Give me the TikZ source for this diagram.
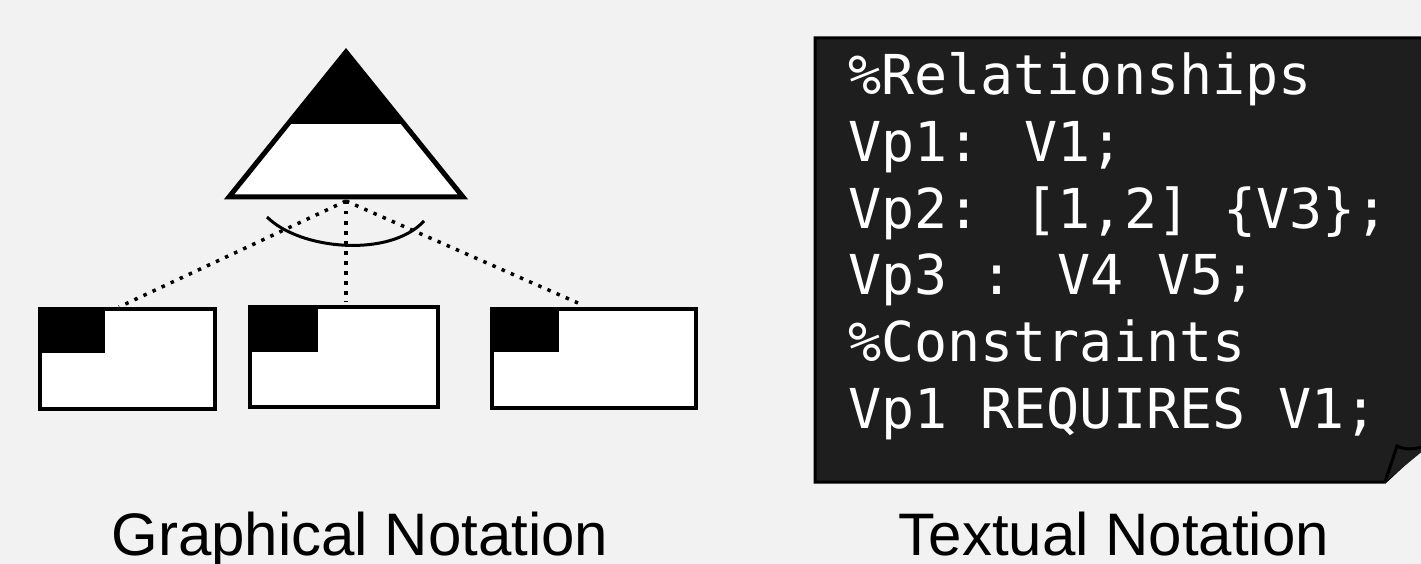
\documentclass[tikz,border=0pt]{standalone}
\usepackage{fontspec}
\setmainfont{Liberation Sans}
\newfontfamily\codefont{DejaVu Sans Mono}
\definecolor{bg}{HTML}{F2F2F2}
\definecolor{notebg}{HTML}{1E1E1E}
\begin{document}
\begin{tikzpicture}[x=1pt,y=-1pt,
  outline/.style={draw=black,line width=4pt,fill=white},
  block/.style={fill=black},
  dotline/.style={draw=black,line width=3.5pt,dash pattern=on 3.5pt off 6.5pt},
  arcline/.style={draw=black,line width=3pt},
  caption/.style={font=\fontsize{60}{62}\selectfont,anchor=base,inner sep=0pt},
  code/.style={font=\codefont\fontsize{55}{66.6}\selectfont,text=white,anchor=base west,inner sep=0pt}]
\fill[bg] (0,0) rectangle (1421,564);
\useasboundingbox (0,0) rectangle (1421,564);

% --- variation point (triangle) ---
\fill[white] (346,51) -- (229,197) -- (463,197) -- cycle;
\fill[black] (346,51) -- (287.5,124) -- (404.5,124) -- cycle;
\draw[line width=5pt,line join=miter] (346,52) -- (229,197) -- (463,197) -- cycle;
\coordinate (vp) at (346,201);

% --- variants (boxes) ---
\draw[outline] (40,309) rectangle (215,409);
\fill[block] (40,309) rectangle (105,353);
\draw[line width=4pt] (40,309) rectangle (215,409);
\coordinate (v1) at (119,307);

\draw[outline] (250,307) rectangle (438,407);
\fill[block] (250,307) rectangle (318,352);
\draw[line width=4pt] (250,307) rectangle (438,407);
\coordinate (v2) at (346,302);

\draw[outline] (492,309) rectangle (696,408);
\fill[block] (492,309) rectangle (559,352);
\draw[line width=4pt] (492,309) rectangle (696,408);
\coordinate (v3) at (578,303);

% --- dotted connectors ---
\draw[dotline] (vp) -- (v1);
\draw[dotline] (vp) -- (v2);
\draw[dotline] (vp) -- (v3);

% --- alternative arc ---
\draw[arcline] (267,217) .. controls (300,250) and (390,258) .. (424,221);

% --- textual notation note ---
\draw[fill=notebg,line width=3pt,line join=miter] (815,38) -- (1430,38) -- (1430,440) -- (1385,482) -- (815,482) -- cycle;
\draw[line width=3pt,fill=notebg] (1385,482) -- (1397,446) .. controls (1405,450) and (1413,450) .. (1430,445);
\node[code] (l1) at (848,95) {\%Relationships};
\node[code] (l2) at (848,161.6) {Vp1: V1;};
\node[code] (l3) at (848,228.2) {Vp2: [1,2] \{V3\};};
\node[code] (l4) at (848,294.8) {Vp3 : V4 V5;};
\node[code] (l5) at (848,361.4) {\%Constraints};
\node[code] (l6) at (848,428) {Vp1 REQUIRES V1;};

% --- captions ---
\node[caption] (gcap) at (360,555) {Graphical Notation};
\node[caption] (tcap) at (1114,555) {Textual Notation};
\end{tikzpicture}
\end{document}
